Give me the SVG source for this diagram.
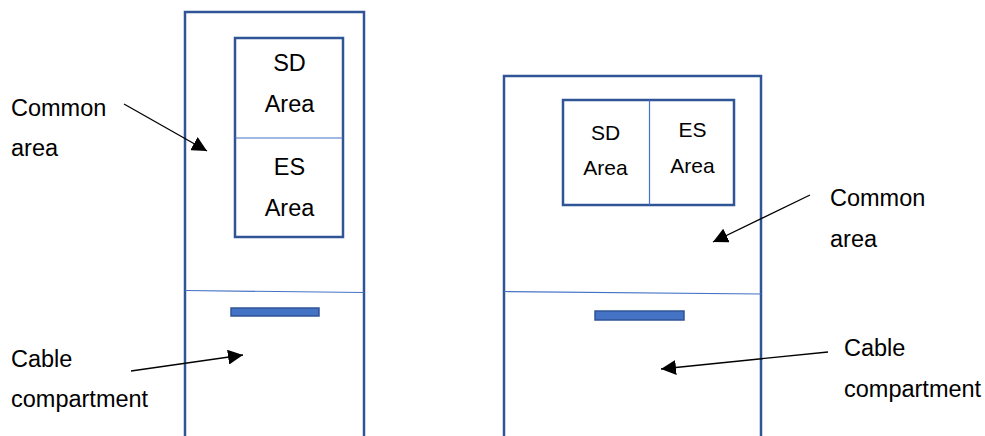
<svg xmlns="http://www.w3.org/2000/svg" width="985" height="436" viewBox="0 0 985 436">
<style>
.box{fill:none;stroke:#2F5597;stroke-width:2.5}
.thin{fill:none;stroke:#4472C4;stroke-width:1.2}
.slot{fill:#4472C4;stroke:#2F5597;stroke-width:1.5}
.t{font-family:"Liberation Sans",Arial,sans-serif;font-size:23.5px;fill:#000}
.s{font-family:"Liberation Sans",Arial,sans-serif;font-size:21px;fill:#000}
.c{text-anchor:middle}
.arr{stroke:#000;stroke-width:1.3;fill:none;marker-end:url(#ah)}
</style>
<defs>
<marker id="ah" viewBox="0 0 15 15" refX="15" refY="7.5" markerWidth="15" markerHeight="15" markerUnits="userSpaceOnUse" orient="auto">
<path d="M0,0 L15,7.5 L0,15 z" fill="#000"/>
</marker>
</defs>
<rect width="985" height="436" fill="#fff"/>
<g id="cabinet-left">
<path class="box" d="M185,437 V12 H364 V437"/>
<path class="thin" d="M185,290.5 L364,292.5"/>
<rect class="slot" x="231" y="308" width="88" height="8"/>
</g>
<g id="box-left">
<rect class="box" x="235" y="38" width="108" height="199"/>
<line class="thin" x1="235" y1="138" x2="343" y2="138"/>
<text class="t c" x="289.5" y="71">SD</text>
<text class="t c" x="289.5" y="112">Area</text>
<text class="t c" x="289.5" y="175">ES</text>
<text class="t c" x="289.5" y="216">Area</text>
</g>
<g id="cabinet-right">
<path class="box" d="M504,437 V76 H761 V437"/>
<path class="thin" d="M504,291.5 L761,294"/>
<rect class="slot" x="595" y="311" width="89" height="9"/>
</g>
<g id="box-right">
<rect class="box" x="563" y="100" width="171" height="105"/>
<line class="thin" x1="649.5" y1="100" x2="649.5" y2="205"/>
<text class="s c" x="605.5" y="140">SD</text>
<text class="s c" x="605.5" y="175">Area</text>
<text class="s c" x="692.5" y="137">ES</text>
<text class="s c" x="692.5" y="173">Area</text>
</g>
<g id="labels">
<text class="t" x="11" y="116">Common</text>
<text class="t" x="11" y="156">area</text>
<text class="t" x="11" y="367">Cable</text>
<text class="t" x="11" y="407">compartment</text>
<text class="t" x="830" y="206">Common</text>
<text class="t" x="830" y="247">area</text>
<text class="t" x="844" y="356">Cable</text>
<text class="t" x="844" y="397">compartment</text>
</g>
<g id="connectors">
<line class="arr" x1="124" y1="104" x2="207" y2="151"/>
<line class="arr" x1="131" y1="371" x2="243" y2="355"/>
<line class="arr" x1="810" y1="195" x2="713" y2="242"/>
<line class="arr" x1="828" y1="352" x2="661" y2="369"/>
</g>
</svg>
